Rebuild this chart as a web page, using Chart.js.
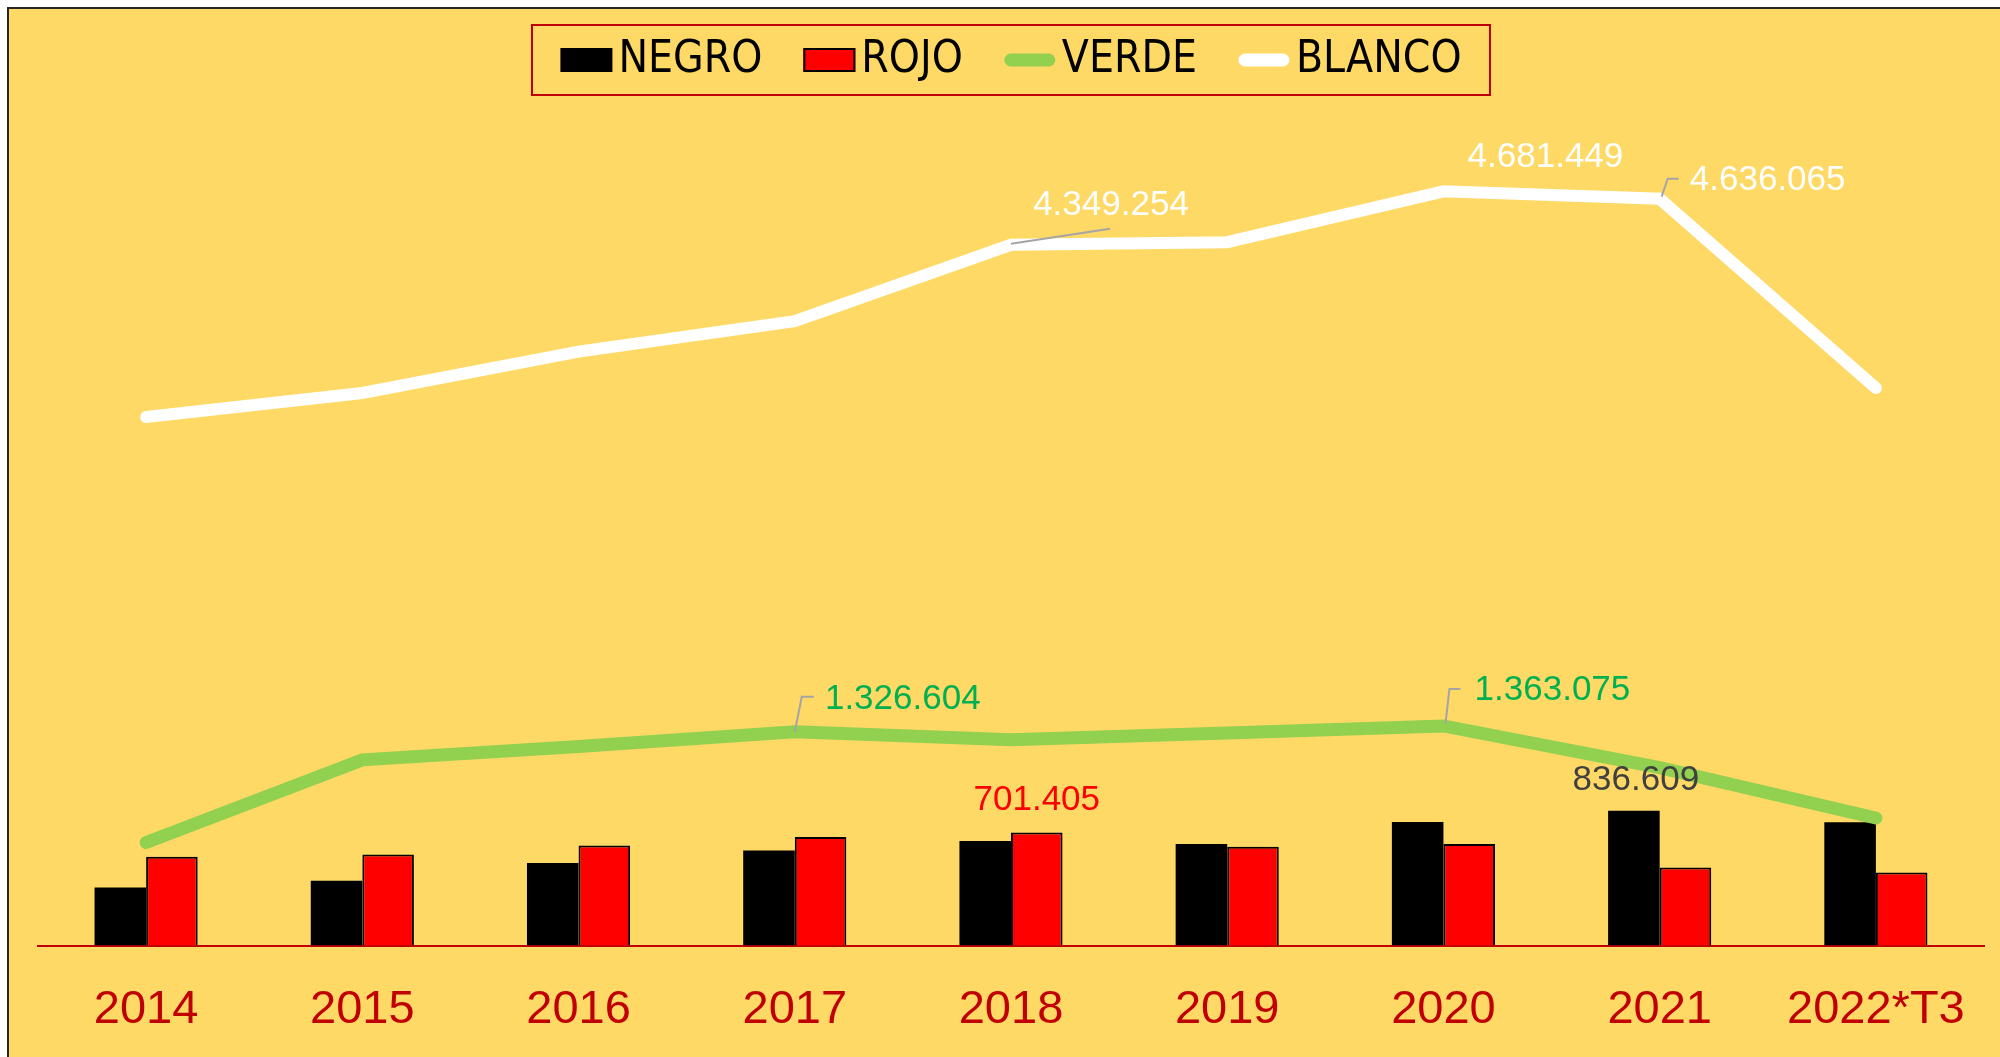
<!DOCTYPE html>
<html>
<head>
<meta charset="utf-8">
<title>NEGRO ROJO VERDE BLANCO</title>
<script src="https://cdn.jsdelivr.net/npm/chart.js@4.4.0/dist/chart.umd.min.js"></script>
<style>
  html, body { margin: 0; padding: 0; background: #ffffff; overflow: hidden; }
  #frame {
    position: absolute; left: 7px; top: 7px; width: 1993px; height: 1050px;
    border-left: 2px solid #262626; border-top: 2px solid #262626;
    background: #FFD966;
  }
  #chart { display: block; }
</style>
</head>
<body>
<div id="frame"><canvas id="chart" width="1991" height="1048"></canvas></div>
<script>
// data
const years = ["2014", "2015", "2016", "2017", "2018", "2019", "2020", "2021", "2022*T3"];
const negro = [361000, 403000, 513000, 591000, 649000, 631000, 767000, 836609, 765000];
const rojo = [552000, 566000, 622000, 674000, 701405, 614000, 631000, 485000, 454000];
const verde = [640000, 1153000, 1236000, 1326604, 1277000, 1319000, 1363075, 1105000, 792000];
const blanco = [3281000, 3430000, 3687000, 3875000, 4349254, 4366000, 4681449, 4636065, 3461000];

// which points carry a value label (dataset index, point index)
const labelled = [
  { ds: 3, i: 4, color: "#FFFFFF", dx: 100, dy: -40, leader: [[0, -1], [99, -16]] },
  { ds: 3, i: 6, color: "#FFFFFF", dx: 102, dy: -34 },
  { ds: 3, i: 7, color: "#FFFFFF", dx: 108, dy: -18, leader: [[2, -2], [8, -20], [19, -20]] },
  { ds: 2, i: 3, color: "#00B050", dx: 108, dy: -33, leader: [[0, 0], [7, -35], [19, -35]] },
  { ds: 2, i: 6, color: "#00B050", dx: 109, dy: -36, leader: [[2, -2], [6, -37], [17, -37]] },
  { ds: 0, i: 7, color: "#404040", dx: 2, dy: -30 },
  { ds: 1, i: 4, color: "#FF0000", dx: 0, dy: -32 }
];

const labelFont = '35px "Liberation Sans", Arial, sans-serif';
const legendFont = '44px "Liberation Sans Narrow", "DejaVu Sans Condensed", sans-serif';

function fmt(v) {
  return String(v).replace(/\B(?=(\d{3})+(?!\d))/g, ".");
}

// legend drawn as a red framed box at the top
const boxLegend = {
  id: "boxLegend",
  afterDraw(chart) {
    const ctx = chart.ctx;
    const box = { left: 523, top: 16, width: 958, height: 70 };
    ctx.save();
    ctx.strokeStyle = "#C00000";
    ctx.lineWidth = 2;
    ctx.strokeRect(box.left, box.top, box.width, box.height);

    ctx.font = legendFont;
    const markW = 52, gapText = 6, gapItem = 41;
    const sets = chart.data.datasets;
    let total = 0;
    sets.forEach((ds, k) => {
      total += markW + gapText + ctx.measureText(ds.label).width;
      if (k < sets.length - 1) total += gapItem;
    });
    let x = box.left + (box.width - total) / 2;
    const cy = box.top + box.height / 2;

    sets.forEach(ds => {
      if (ds.type === "line") {
        ctx.strokeStyle = ds.borderColor;
        ctx.lineWidth = 13;
        ctx.lineCap = "round";
        ctx.beginPath();
        ctx.moveTo(x + 7, cy);
        ctx.lineTo(x + markW - 7, cy);
        ctx.stroke();
      } else {
        ctx.fillStyle = ds.backgroundColor;
        ctx.fillRect(x, cy - 12, markW, 24);
        if (ds.borderWidth) {
          ctx.strokeStyle = ds.borderColor;
          ctx.lineWidth = 2;
          ctx.strokeRect(x + 1, cy - 11, markW - 2, 22);
        }
      }
      ctx.fillStyle = "#000000";
      ctx.textAlign = "left";
      ctx.textBaseline = "middle";
      ctx.fillText(ds.label, x + markW + gapText, cy + 1);
      x += markW + gapText + ctx.measureText(ds.label).width + gapItem;
    });
    ctx.restore();
  }
};

// value labels with small grey leader lines
const valueLabels = {
  id: "valueLabels",
  afterDatasetsDraw(chart) {
    const ctx = chart.ctx;
    ctx.save();
    ctx.font = labelFont;
    ctx.textAlign = "center";
    ctx.textBaseline = "middle";
    labelled.forEach(l => {
      const el = chart.getDatasetMeta(l.ds).data[l.i];
      const value = chart.data.datasets[l.ds].data[l.i];
      if (l.leader) {
        ctx.strokeStyle = "#A5A5A5";
        ctx.lineWidth = 2;
        ctx.beginPath();
        l.leader.forEach((p, n) => {
          if (n === 0) ctx.moveTo(el.x + p[0], el.y + p[1]);
          else ctx.lineTo(el.x + p[0], el.y + p[1]);
        });
        ctx.stroke();
      }
      ctx.fillStyle = l.color;
      ctx.fillText(fmt(value), el.x + l.dx, el.y + l.dy);
    });
    ctx.restore();
  }
};

const ctx = document.getElementById("chart").getContext("2d");
const chart = new Chart(ctx, {
  data: {
    labels: years,
    datasets: [
      {
        type: "bar",
        label: "NEGRO",
        data: negro,
        backgroundColor: "#000000",
        borderWidth: 0,
        order: 2,
        barPercentage: 1,
        categoryPercentage: 0.477
      },
      {
        type: "bar",
        label: "ROJO",
        data: rojo,
        backgroundColor: "#FF0000",
        borderColor: "#000000",
        borderWidth: 2,
        order: 2,
        barPercentage: 1,
        categoryPercentage: 0.477
      },
      {
        type: "line",
        label: "VERDE",
        data: verde,
        borderColor: "#92D050",
        backgroundColor: "#92D050",
        borderWidth: 13,
        borderCapStyle: "round",
        borderJoinStyle: "miter",
        pointRadius: 0,
        tension: 0,
        order: 1
      },
      {
        type: "line",
        label: "BLANCO",
        data: blanco,
        borderColor: "#FFFFFF",
        backgroundColor: "#FFFFFF",
        borderWidth: 12,
        borderCapStyle: "round",
        borderJoinStyle: "miter",
        pointRadius: 0,
        tension: 0,
        order: 0
      }
    ]
  },
  options: {
    responsive: false,
    animation: false,
    layout: { padding: { left: 29, right: 16, top: 131, bottom: -9 } },
    plugins: {
      legend: { display: false },
      tooltip: { enabled: false }
    },
    scales: {
      x: {
        grid: { display: false },
        border: { display: true, color: "#C00000", width: 2 },
        ticks: {
          color: "#C00000",
          padding: 28,
          font: { family: '"Liberation Sans", Arial, sans-serif', size: 47 }
        }
      },
      y: {
        display: false,
        min: 0,
        max: 5000000
      }
    }
  },
  plugins: [boxLegend, valueLabels]
});
</script>
</body>
</html>
